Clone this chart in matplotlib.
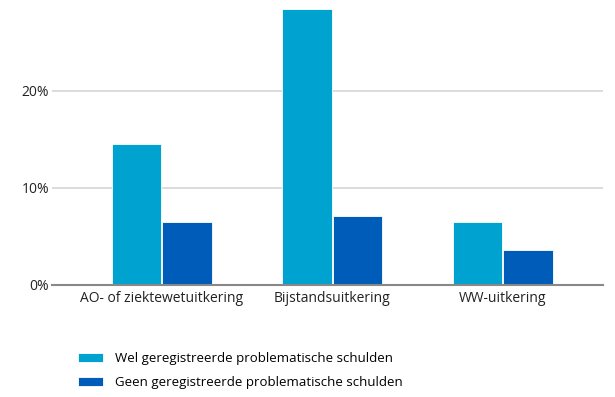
import matplotlib
matplotlib.use("Agg")
import matplotlib.pyplot as plt
import numpy as np

# categorieen en waarden (percentages)
categories = ['AO- of ziektewetuitkering', 'Bijstandsuitkering', 'WW-uitkering']
wel = [14.5, 28.4, 6.4]
geen = [6.4, 7.1, 3.6]
series_names = ['Wel geregistreerde problematische schulden',
                'Geen geregistreerde problematische schulden']
yticks = [0, 10, 20]
ytick_labels = ['0%', '10%', '20%']

plt.rcParams['font.family'] = ['Open Sans', 'DejaVu Sans']

fig = plt.figure(figsize=(6.15, 3.97), dpi=100)
ax = fig.add_axes([52/615, 1-284.5/397, (603-52)/615, 284.5/397])

x = np.arange(len(categories))
w = 0.29
b1 = ax.bar(x - w/2 - 0.003, wel, w, color='#00A3CF', edgecolor='white', linewidth=0.6, zorder=3)
b2 = ax.bar(x + w/2 + 0.003, geen, w, color='#005CB9', edgecolor='white', linewidth=0.6, zorder=3)

ax.set_xlim(-0.645, 2.587)
ax.set_ylim(0, 29.33)
ax.set_yticks(yticks)
ax.set_yticklabels(ytick_labels)
ax.set_xticks(x)
ax.set_xticklabels(categories)
ax.tick_params(axis='both', length=0, labelsize=10, colors='#222222')
ax.tick_params(axis='x', pad=5)
ax.tick_params(axis='y', pad=2)
ax.yaxis.grid(True, color='#d9d9d9', linewidth=1.3, zorder=0)
for s in ['top', 'right', 'left']:
    ax.spines[s].set_visible(False)
ax.spines['bottom'].set_color('#888888')
ax.spines['bottom'].set_linewidth(1.5)
ax.spines['bottom'].set_zorder(4)

fig.legend([b1, b2], series_names, loc='upper left', bbox_to_anchor=(66/615, 1-340/397),
           frameon=False, fontsize=9.5, handlelength=1.9, handleheight=0.7,
           handletextpad=0.9, labelspacing=0.85)

fig.savefig('out.png', dpi=100)
